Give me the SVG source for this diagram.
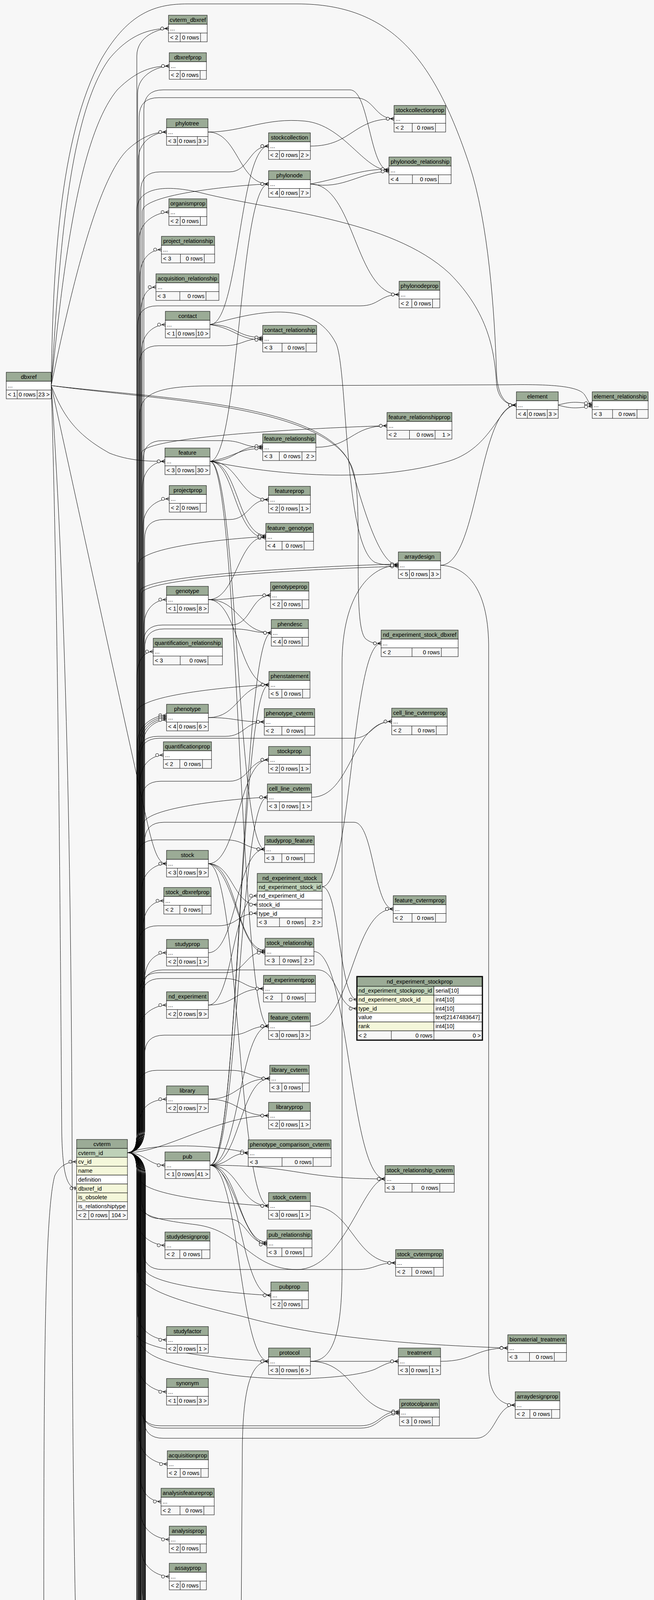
<svg xmlns="http://www.w3.org/2000/svg" width="1673" height="6361" viewBox="0 0 1673 6361">
<style>
text{font-family:"Liberation Sans",Arial,Helvetica,sans-serif;font-size:14.67px;fill:#000}
.c{text-anchor:middle}.e{text-anchor:end}
.h{fill:#9bab96;stroke:#000}.w{fill:#fff;stroke:#000}.f{fill:#f7f7f7;stroke:#000}.p{fill:#bed1b8;stroke:#000}.i{fill:#f4f7da;stroke:#000}
.k{stroke:#000;fill:none}
#edges path{fill:none;stroke:#000;stroke-width:1;marker-end:url(#cf)}
#edges path.o{marker-end:url(#t1)}
</style>
<defs>
<marker id="cf" viewBox="0 0 26 12" refX="25" refY="6" markerWidth="26" markerHeight="12" markerUnits="userSpaceOnUse" orient="auto">
<path d="M16 6H25M16 6L25 1.5M16 6L25 10.5" fill="none" stroke="#000"/>
<circle cx="9" cy="6" r="4" fill="#fff" stroke="#000"/>
</marker>
<marker id="t1" viewBox="0 0 26 12" refX="25" refY="6" markerWidth="26" markerHeight="12" markerUnits="userSpaceOnUse" orient="auto">
<path d="M21 1.5V10.5" fill="none" stroke="#000" stroke-width="2"/>
<circle cx="12" cy="6" r="4" fill="#fff" stroke="#000"/>
</marker>
</defs>
<rect width="1673" height="6361" fill="#f7f7f7"/>
<g id="edges">
<path d="M131 987C150 700 170 300 280 150C330 90 380 73 431 73"/>
<path d="M131 987C160 700 200 350 300 230C350 180 390 169 433 169"/>
<path d="M131 987C180 750 250 450 330 380C370 345 400 338 426 338"/>
<path d="M131 987C160 1060 190 1110 280 1160C330 1180 380 1181 422 1181"/>
<path d="M131 987C400 1020 850 1030 900 1200C930 1300 970 1447 1019 1447"/>
<path d="M131 987C135 700 150 350 260 150C330 30 400 10 480 10L760 10C1000 10 1110 150 1200 420C1250 570 1265 800 1270 950C1272 1010 1290 1037 1321 1037"/>
<path d="M131 987C400 1025 860 1035 905 1210C930 1300 900 1600 935 1635C950 1647 960 1647 975 1647"/>
<path d="M131 987C200 1300 330 1900 380 2120C395 2180 405 2211 426 2211"/>
<path class="o" d="M131 987C150 1600 155 2500 158 2900C160 3000 170 3042 196 3042"/>
<path d="M131 987C180 1700 185 2600 185 3300C185 4300 220 5400 300 5680C350 5790 440 5800 500 5800C570 5800 605 5750 607 5600L620 3700C622 3560 640 3485 687 3485"/>
<path d="M121 6178C200 6170 235 5900 235 5600C235 5100 112 4600 112 4100C112 3500 115 3100 140 3010C152 2985 172 2974 196 2974"/>
<path d="M121 6178L433 6178"/>
<path d="M121 6178C220 6178 300 6277 433 6277"/>
<path d="M326 2951C345 2951 350 2935 350 2890L350 143C350 93 406 73 431 73"/>
<path d="M326 2951C345 2951 352 2935 352 2890L352 239C352 189 408 169 433 169"/>
<path d="M326 2951C345 2951 354 2935 354 2890L354 408C354 358 401 338 426 338"/>
<path d="M326 2951C345 2951 356 2935 356 2890L356 613C356 563 407 543 432 543"/>
<path d="M326 2951C345 2951 358 2935 358 2890L358 709C358 659 388 639 413 639"/>
<path d="M326 2951C345 2951 360 2935 360 2890L360 805C360 755 380 735 399 735"/>
<path d="M326 2951C345 2951 362 2935 362 2890L362 901C362 851 398 831 423 831"/>
<path d="M326 2951C345 2951 364 2935 364 2890L364 1251C364 1201 397 1181 422 1181"/>
<path d="M326 2951C345 2951 366 2935 366 2890L366 1347C366 1297 408 1277 433 1277"/>
<path d="M326 2951C345 2951 368 2935 368 2890L368 1605C368 1555 401 1535 426 1535"/>
<path d="M326 2951C345 2951 350 2935 350 2890L350 1738C350 1688 370 1668 392 1668"/>
<path d="M326 2951C345 2951 352 2935 352 2890L352 1901C352 1851 401 1831 426 1831"/>
<path d="M326 2951C345 2951 356 2935 356 2890L356 1905C356 1855 401 1835 426 1835"/>
<path d="M326 2951C345 2951 360 2935 360 2890L360 1909C360 1859 401 1839 426 1839"/>
<path d="M326 2951C345 2951 364 2935 364 2890L364 1913C364 1863 401 1843 426 1843"/>
<path d="M326 2951C345 2951 358 2935 358 2890L358 2003C358 1953 393 1933 418 1933"/>
<path d="M326 2951C345 2951 362 2935 362 2890L362 2281C362 2231 401 2211 426 2211"/>
<path d="M326 2951C345 2951 366 2935 366 2890L366 2376C366 2326 394 2306 419 2306"/>
<path d="M326 2951C345 2951 370 2935 370 2890L370 2509C370 2459 401 2439 426 2439"/>
<path d="M326 2951C345 2951 354 2935 354 2890L354 2643C354 2593 401 2573 426 2573"/>
<path d="M326 2951C350 2951 358 2900 358 2870C358 2830 395 2814 426 2814"/>
<path d="M326 2951C370 2951 380 2983 422 2983"/>
<path d="M326 2951C345 2951 350 2967 350 3010L350 3118C350 3168 397 3188 422 3188"/>
<path d="M326 2951C345 2951 352 2967 352 3010L352 3360C352 3410 401 3430 426 3430"/>
<path d="M326 2951C345 2951 354 2967 354 3010L354 3493C354 3543 401 3563 426 3563"/>
<path d="M326 2951C345 2951 356 2967 356 3010L356 3678C356 3728 403 3748 428 3748"/>
<path d="M326 2951C345 2951 358 2967 358 3010L358 3774C358 3824 387 3844 412 3844"/>
<path d="M326 2951C345 2951 360 2967 360 3010L360 3871C360 3921 408 3941 433 3941"/>
<path d="M326 2951C345 2951 362 2967 362 3010L362 3966C362 4016 408 4036 433 4036"/>
<path d="M326 2951C345 2951 364 2967 364 3010L364 4063C364 4113 380 4133 398 4133"/>
<path d="M326 2951C345 2951 366 2967 366 3010L366 4159C366 4209 401 4229 426 4229"/>
<path d="M326 2951C345 2951 368 2967 368 3010L368 4255C368 4305 385 4325 408 4325"/>
<path d="M326 2951C345 2951 370 2967 370 3010L370 4351C370 4401 401 4421 426 4421"/>
<path d="M326 2951C345 2951 372 2967 372 3010L372 4447C372 4497 408 4517 433 4517"/>
<path d="M326 2951C345 2951 350 2967 350 3010L350 4543C350 4593 408 4613 433 4613"/>
<path d="M326 2951C345 2951 352 2967 352 3010L352 4634C352 4684 390 4704 413 4704"/>
<path d="M326 2951C345 2951 356 2967 356 3010L356 4638C356 4688 390 4708 413 4708"/>
<path d="M326 2951C345 2951 360 2967 360 3010L360 4642C360 4692 390 4712 413 4712"/>
<path d="M326 2951C345 2951 354 2967 354 3010L354 4731C354 4781 408 4801 433 4801"/>
<path d="M326 2951C345 2951 358 2967 358 3010L358 4737C358 4787 408 4807 433 4807"/>
<path d="M326 2951C345 2951 362 2967 362 3010L362 4827C362 4877 399 4897 424 4897"/>
<path d="M326 2951C345 2951 366 2967 366 3010L366 4833C366 4883 399 4903 424 4903"/>
<path d="M326 2951C345 2951 370 2967 370 3010L370 4926C370 4976 380 4996 390 4996"/>
<path d="M326 2951C345 2951 372 2967 372 3010L372 5022C372 5072 392 5092 410 5092"/>
<path d="M326 2951C345 2951 350 2967 350 3010L350 5153C350 5203 389 5223 414 5223"/>
<path d="M326 2951C345 2951 354 2967 354 3010L354 5159C354 5209 389 5229 414 5229"/>
<path d="M326 2951C345 2951 356 2967 356 3010L356 5252C356 5302 401 5322 426 5322"/>
<path d="M326 2951C345 2951 358 2967 358 3010L358 5348C358 5398 378 5418 399 5418"/>
<path d="M326 2951C345 2951 360 2967 360 3010L360 5444C360 5494 397 5514 422 5514"/>
<path d="M326 2951C345 2951 362 2967 362 3010L362 5540C362 5590 401 5610 426 5610"/>
<path d="M326 2951C345 2951 364 2967 364 3010L364 5636C364 5686 387 5706 412 5706"/>
<path d="M326 2951C345 2951 366 2967 366 3010L366 5806C366 5856 402 5876 427 5876"/>
<path d="M326 2951C345 2951 368 2967 368 3010L368 5975C368 6025 402 6045 427 6045"/>
<path d="M326 2951C345 2951 350 2967 350 3010L350 6102C350 6152 408 6172 433 6172"/>
<path d="M326 2951C345 2951 354 2967 354 3010L354 6106C354 6156 408 6175 433 6175"/>
<path d="M326 2951C345 2951 358 2967 358 3010L358 6112C358 6162 408 6182 433 6182"/>
<path d="M326 2951C345 2951 360 2967 360 3010L360 6201C360 6251 408 6271 433 6271"/>
<path d="M326 2951C345 2951 356 2935 356 2890L356 300Q356 250 406 250L908 250C958 250 958 304 1008 304"/>
<path d="M326 2951C345 2951 360 2935 360 2890L360 490Q360 440 410 440L587 440C637 440 637 374 687 374"/>
<path d="M326 2951C345 2951 364 2935 364 2890L364 541C364 491 662 471 687 471"/>
<path d="M326 2951C345 2951 368 2935 368 2890L368 280Q368 230 418 230L895 230C945 230 945 436 995 436"/>
<path d="M326 2951C345 2951 352 2935 352 2890L352 833Q352 783 402 783L921 783C971 783 971 754 1021 754"/>
<path d="M326 2951C345 2951 356 2935 356 2890L356 935Q356 885 406 885L572 885C622 885 622 867 672 867"/>
<path d="M326 2951C345 2951 350 2935 350 2890L350 540C350 480 420 470 520 495C700 540 1000 560 1150 700C1250 800 1265 900 1270 980C1273 1020 1295 1037 1321 1037"/>
<path d="M326 2951C345 2951 358 2935 358 2890L358 1060C358 1010 400 990 520 988L1300 985C1420 983 1480 990 1495 1010C1505 1025 1508 1037 1515 1037"/>
<path d="M326 2951C345 2951 362 2935 362 2890L362 1160C362 1110 965 1090 990 1090"/>
<path d="M326 2951C345 2951 366 2935 366 2890L366 1178Q366 1128 416 1128L572 1128C622 1128 622 1145 672 1145"/>
<path d="M326 2951C345 2951 370 2935 370 2890L370 1380Q370 1330 420 1330L587 1330C637 1330 637 1279 687 1279"/>
<path d="M326 2951C345 2951 354 2935 354 2890L354 1444C354 1394 655 1374 680 1374"/>
<path d="M326 2951C345 2951 358 2935 358 2890L358 1514C358 1464 994 1444 1019 1444"/>
<path d="M326 2951C345 2951 362 2935 362 2890L362 1520C362 1470 994 1450 1019 1450"/>
<path d="M326 2951C345 2951 366 2935 366 2890L366 1650Q366 1600 416 1600L592 1600C642 1600 642 1524 692 1524"/>
<path d="M326 2951C345 2951 370 2935 370 2890L370 1660Q370 1610 420 1610L594 1610C644 1610 644 1620 694 1620"/>
<path d="M326 2951C345 2951 350 2935 350 2890L350 1823C350 1773 663 1753 688 1753"/>
<path d="M326 2951C345 2951 354 2935 354 2890L354 1935Q354 1885 404 1885L576 1885C626 1885 626 1848 676 1848"/>
<path d="M326 2951C345 2951 358 2935 358 2890L358 1940Q358 1890 408 1890L902 1890C952 1890 952 1847 1002 1847"/>
<path d="M326 2951C345 2951 362 2935 362 2890L362 2050Q362 2000 412 2000L587 2000C637 2000 637 1945 687 1945"/>
<path d="M326 2951C345 2951 366 2935 366 2890L366 2111C366 2061 659 2041 684 2041"/>
<path d="M326 2951C345 2951 370 2935 370 2890L370 2155Q370 2105 420 2105L906 2105C956 2105 956 2327 1006 2327"/>
<path d="M326 2951C345 2951 350 2935 350 2890L350 2200Q350 2150 400 2150L577 2150C627 2150 627 2174 677 2174"/>
<path d="M326 2951C345 2951 354 2935 354 2890L354 2420Q354 2370 404 2370L558 2370C608 2370 608 2338 658 2338"/>
<path d="M326 2951C345 2951 358 2935 358 2890L358 2540Q358 2490 408 2490L578 2490C628 2490 628 2436 678 2436"/>
<path d="M326 2951C345 2951 362 2935 362 2890L362 2555Q362 2505 412 2505L574 2505C624 2505 624 2531 674 2531"/>
<path d="M326 2951C345 2951 366 2935 366 2890L366 2533Q366 2483 416 2483L813 2483C863 2483 863 2582 913 2582"/>
<path d="M326 2951C345 2951 370 2935 370 2890L370 2700Q370 2650 420 2650L587 2650C637 2650 637 2627 687 2627"/>
<path d="M326 2951C345 2951 352 2935 352 2890L352 2790Q352 2740 402 2740L590 2740C640 2740 640 2761 690 2761"/>
<path d="M326 2951C420 2951 560 2856 687 2856"/>
<path d="M326 2951C400 2925 550 2930 635 2952"/>
<path d="M326 2951C345 2951 354 2967 354 3010L354 3080C354 3115 420 3125 500 3135C620 3150 640 3250 760 3250C880 3250 930 3018 985 3018"/>
<path d="M326 2951C345 2951 358 2967 358 3010L358 3017C358 3067 662 3087 687 3087"/>
<path d="M326 2951C345 2951 362 2967 362 3010L362 3070Q362 3120 412 3120L583 3120C633 3120 633 3183 683 3183"/>
<path d="M326 2951C345 2951 366 2967 366 3010L366 3200Q366 3250 416 3250L912 3250C962 3250 962 3233 1012 3233"/>
<path d="M326 2951C345 2951 370 2967 370 3010L370 3246C370 3296 668 3316 693 3316"/>
<path d="M326 2951C345 2951 350 2967 350 3010L350 3415C350 3465 662 3485 687 3485"/>
<path d="M326 2951C345 2951 352 2967 352 3010L352 3250C352 3300 450 3330 620 3370C800 3420 1000 3440 1299 3451"/>
<path d="M326 2951C345 2951 356 2967 356 3010L356 3420C356 3470 420 3490 560 3515C700 3540 900 3530 960 3505C985 3492 1000 3485 1019 3485"/>
<path d="M326 2951C345 2951 360 2967 360 3010L360 3600Q360 3650 410 3650L922 3650C972 3650 972 3613 1022 3613"/>
<path d="M326 2951C345 2951 364 2967 364 3010L364 3606Q364 3656 414 3656L922 3656C972 3656 972 3619 1022 3619"/>
<path d="M326 2951C345 2951 368 2967 368 3010L368 3632Q368 3682 418 3682L1218 3682C1268 3682 1268 3597 1318 3597"/>
<path d="M326 2951C345 2951 370 2967 370 3010L370 5110Q370 5160 420 5160L560 5160C610 5160 610 5192 660 5192"/>
<path d="M326 2951C345 2951 372 2967 372 3010L372 5741C372 5791 633 5811 658 5811"/>
<path d="M326 2951C345 2951 350 2967 350 3010L350 5890C350 5950 420 5962 470 5962C560 5962 620 5908 686 5908"/>
<path d="M326 2951C345 2951 354 2967 354 3010L354 5933C354 5983 645 6003 670 6003"/>
<path d="M326 2951C345 2951 358 2967 358 3010L358 6036C358 6086 660 6106 685 6106"/>
<path d="M532 338C609 338 610 471 687 471"/>
<path d="M532 338C620 338 680 300 780 310C880 320 930 436 995 436"/>
<path d="M794 471C880 455 920 433 995 433"/>
<path d="M794 471C880 487 920 439 995 439"/>
<path d="M794 471C907 471 908 754 1021 754"/>
<path d="M537 1181C612 1181 612 471 687 471"/>
<path d="M537 1181C605 1181 604 1142 672 1142"/>
<path d="M537 1181C600 1170 610 1148 672 1148"/>
<path d="M537 1181C612 1181 612 1279 687 1279"/>
<path d="M537 1181C609 1181 608 1371 680 1371"/>
<path d="M537 1181C600 1181 600 1377 680 1377"/>
<path d="M537 1181C700 1215 950 1240 1150 1180C1260 1145 1275 1037 1321 1037"/>
<path d="M537 1181C607 1181 607 2174 677 2174"/>
<path d="M537 1181C612 1181 612 2627 687 2627"/>
<path d="M537 831C605 831 604 864 672 864"/>
<path d="M537 831C600 840 610 870 672 870"/>
<path d="M537 831C612 831 612 374 687 374"/>
<path d="M537 831C650 800 800 760 860 880C890 950 880 1400 960 1440C980 1447 1000 1447 1019 1447"/>
<path d="M794 374C901 374 901 304 1008 304"/>
<path d="M808 1145C899 1145 899 1090 990 1090"/>
<path d="M533 1535C606 1535 607 1374 680 1374"/>
<path d="M533 1535C612 1535 612 1524 692 1524"/>
<path d="M533 1535C613 1535 614 1620 694 1620"/>
<path d="M533 1535C610 1535 611 1753 688 1753"/>
<path d="M533 1837C610 1837 611 1753 688 1753"/>
<path d="M533 1837C604 1837 605 1848 676 1848"/>
<path d="M537 2983C615 2983 616 1620 694 1620"/>
<path d="M537 2983C612 2983 613 1753 688 1753"/>
<path d="M537 2983C610 2983 611 2041 684 2041"/>
<path d="M537 2983C612 2983 612 2627 687 2627"/>
<path d="M537 2983C613 2983 614 2761 690 2761"/>
<path d="M537 2983C586 2983 586 2952 635 2952"/>
<path d="M537 2983C612 2983 612 3087 687 3087"/>
<path d="M537 2983C610 2983 610 3180 683 3180"/>
<path d="M537 2983C600 2990 620 3186 683 3186"/>
<path d="M537 2983C615 2983 615 3316 693 3316"/>
<path d="M537 2983C612 2983 612 3485 687 3485"/>
<path d="M537 2983C761 2983 761 3018 985 3018"/>
<path d="M533 2211C610 2211 610 1945 687 1945"/>
<path d="M533 2211C595 2211 596 2316 658 2316"/>
<path d="M533 2211C605 2211 606 2433 678 2433"/>
<path d="M533 2211C598 2220 612 2439 678 2439"/>
<path d="M533 2211C610 2211 610 3087 687 3087"/>
<path d="M533 2439C605 2439 605 2174 677 2174"/>
<path d="M533 2573C595 2573 596 2293 658 2293"/>
<path d="M533 2573C603 2573 604 2531 674 2531"/>
<path d="M533 2814C611 2814 612 2761 690 2761"/>
<path d="M533 2814C610 2814 610 2856 687 2856"/>
<path d="M797 2041C899 2041 900 1847 1002 1847"/>
<path d="M824 2270C899 2270 900 1647 975 1647"/>
<path d="M824 2270C869 2270 868 2559 913 2559"/>
<path d="M803 2436C894 2436 894 3018 985 3018"/>
<path d="M794 2627C900 2627 900 2327 1006 2327"/>
<path d="M794 3087C903 3087 903 3233 1012 3233"/>
<path d="M794 3485L1019 3485"/>
<path d="M794 3485C908 3485 908 3616 1022 3616"/>
<path d="M794 3485C850 3485 875 3420 875 3250L875 1700C875 1520 950 1447 1019 1447"/>
<path d="M1127 3485C1213 3485 1213 3451 1299 3451"/>
<path d="M1127 1447C1224 1447 1224 1037 1321 1037"/>
<path d="M1127 1447C1190 1450 1248 1500 1250 1650L1250 3500C1250 3570 1280 3597 1318 3597"/>
<path d="M1428 1037C1465 1026 1480 1030 1515 1034"/>
<path d="M1428 1037C1465 1048 1480 1044 1515 1040"/>
<path d="M545 5226C602 5226 603 5192 660 5192"/>
<path d="M534 5876C596 5876 596 5808 658 5808"/>
<path d="M534 5876C590 5870 600 5814 658 5814"/>
<path d="M534 5876C610 5876 610 5908 686 5908"/>
<path d="M534 5876C602 5876 602 6000 670 6000"/>
<path d="M534 6045C602 6045 602 6006 670 6006"/>
<path d="M534 6045C610 6045 610 6106 685 6106"/>
</g>
<g id="tbl-cvterm_dbxref" transform="translate(431 39)"><rect class="h" width="99" height="23"/><rect class="w" y="23" width="99" height="22.5"/><rect class="f" y="45.5" width="99" height="22.5"/><path class="k" d="M30 45.5V68M82 45.5V68"/><text class="c" x="49.5" y="16.5">cvterm_dbxref</text><text x="4" y="39">...</text><text x="4" y="61.5">&lt; 2</text><text class="e" x="78" y="61.5">0 rows</text></g>
<g id="tbl-dbxrefprop" transform="translate(433 135)"><rect class="h" width="95" height="23"/><rect class="w" y="23" width="95" height="22.5"/><rect class="f" y="45.5" width="95" height="22.5"/><path class="k" d="M28 45.5V68M79 45.5V68"/><text class="c" x="47.5" y="16.5">dbxrefprop</text><text x="4" y="39">...</text><text x="4" y="61.5">&lt; 2</text><text class="e" x="75" y="61.5">0 rows</text></g>
<g id="tbl-phylotree" transform="translate(426 304)"><rect class="h" width="106" height="23"/><rect class="w" y="23" width="106" height="22.5"/><rect class="f" y="45.5" width="106" height="22.5"/><path class="k" d="M28 45.5V68M79 45.5V68"/><text class="c" x="53" y="16.5">phylotree</text><text x="4" y="39">...</text><text x="4" y="61.5">&lt; 3</text><text class="e" x="75" y="61.5">0 rows</text><text class="e" x="102" y="61.5">3 &gt;</text></g>
<g id="tbl-organismprop" transform="translate(432 509)"><rect class="h" width="97" height="23"/><rect class="w" y="23" width="97" height="22.5"/><rect class="f" y="45.5" width="97" height="22.5"/><path class="k" d="M29 45.5V68M80.5 45.5V68"/><text class="c" x="48.5" y="16.5">organismprop</text><text x="4" y="39">...</text><text x="4" y="61.5">&lt; 2</text><text class="e" x="76.5" y="61.5">0 rows</text></g>
<g id="tbl-project_relationship" transform="translate(413 605)"><rect class="h" width="136" height="23"/><rect class="w" y="23" width="136" height="22.5"/><rect class="f" y="45.5" width="136" height="22.5"/><path class="k" d="M48.5 45.5V68M109.5 45.5V68"/><text class="c" x="68" y="16.5">project_relationship</text><text x="4" y="39">...</text><text x="4" y="61.5">&lt; 3</text><text class="e" x="105.5" y="61.5">0 rows</text></g>
<g id="tbl-acquisition_relationship" transform="translate(399 701)"><rect class="h" width="161" height="23"/><rect class="w" y="23" width="161" height="22.5"/><rect class="f" y="45.5" width="161" height="22.5"/><path class="k" d="M61 45.5V68M128 45.5V68"/><text class="c" x="80.5" y="16.5">acquisition_relationship</text><text x="4" y="39">...</text><text x="4" y="61.5">&lt; 3</text><text class="e" x="124" y="61.5">0 rows</text></g>
<g id="tbl-contact" transform="translate(423 797)"><rect class="h" width="114" height="23"/><rect class="w" y="23" width="114" height="22.5"/><rect class="f" y="45.5" width="114" height="22.5"/><path class="k" d="M28 45.5V68M79 45.5V68"/><text class="c" x="57" y="16.5">contact</text><text x="4" y="39">...</text><text x="4" y="61.5">&lt; 1</text><text class="e" x="75" y="61.5">0 rows</text><text class="e" x="110" y="61.5">10 &gt;</text></g>
<g id="tbl-feature" transform="translate(422 1147)"><rect class="h" width="115" height="23"/><rect class="w" y="23" width="115" height="22.5"/><rect class="f" y="45.5" width="115" height="22.5"/><path class="k" d="M28 45.5V68M79 45.5V68"/><text class="c" x="57.5" y="16.5">feature</text><text x="4" y="39">...</text><text x="4" y="61.5">&lt; 3</text><text class="e" x="75" y="61.5">0 rows</text><text class="e" x="111" y="61.5">30 &gt;</text></g>
<g id="tbl-projectprop" transform="translate(433 1243)"><rect class="h" width="95" height="23"/><rect class="w" y="23" width="95" height="22.5"/><rect class="f" y="45.5" width="95" height="22.5"/><path class="k" d="M28 45.5V68M79 45.5V68"/><text class="c" x="47.5" y="16.5">projectprop</text><text x="4" y="39">...</text><text x="4" y="61.5">&lt; 2</text><text class="e" x="75" y="61.5">0 rows</text></g>
<g id="tbl-genotype" transform="translate(426 1501)"><rect class="h" width="107" height="23"/><rect class="w" y="23" width="107" height="22.5"/><rect class="f" y="45.5" width="107" height="22.5"/><path class="k" d="M28 45.5V68M79 45.5V68"/><text class="c" x="53.5" y="16.5">genotype</text><text x="4" y="39">...</text><text x="4" y="61.5">&lt; 1</text><text class="e" x="75" y="61.5">0 rows</text><text class="e" x="103" y="61.5">8 &gt;</text></g>
<g id="tbl-quantification_relationship" transform="translate(392 1634)"><rect class="h" width="177" height="23"/><rect class="w" y="23" width="177" height="22.5"/><rect class="f" y="45.5" width="177" height="22.5"/><path class="k" d="M69 45.5V68M140 45.5V68"/><text class="c" x="88.5" y="16.5">quantification_relationship</text><text x="4" y="39">...</text><text x="4" y="61.5">&lt; 3</text><text class="e" x="136" y="61.5">0 rows</text></g>
<g id="tbl-phenotype" transform="translate(426 1803)"><rect class="h" width="107" height="23"/><rect class="w" y="23" width="107" height="22.5"/><rect class="f" y="45.5" width="107" height="22.5"/><path class="k" d="M28 45.5V68M79 45.5V68"/><text class="c" x="53.5" y="16.5">phenotype</text><text x="4" y="39">...</text><text x="4" y="61.5">&lt; 4</text><text class="e" x="75" y="61.5">0 rows</text><text class="e" x="103" y="61.5">6 &gt;</text></g>
<g id="tbl-quantificationprop" transform="translate(418 1899)"><rect class="h" width="123" height="23"/><rect class="w" y="23" width="123" height="22.5"/><rect class="f" y="45.5" width="123" height="22.5"/><path class="k" d="M42 45.5V68M100 45.5V68"/><text class="c" x="61.5" y="16.5">quantificationprop</text><text x="4" y="39">...</text><text x="4" y="61.5">&lt; 2</text><text class="e" x="96" y="61.5">0 rows</text></g>
<g id="tbl-stock" transform="translate(426 2177)"><rect class="h" width="107" height="23"/><rect class="w" y="23" width="107" height="22.5"/><rect class="f" y="45.5" width="107" height="22.5"/><path class="k" d="M28 45.5V68M79 45.5V68"/><text class="c" x="53.5" y="16.5">stock</text><text x="4" y="39">...</text><text x="4" y="61.5">&lt; 3</text><text class="e" x="75" y="61.5">0 rows</text><text class="e" x="103" y="61.5">9 &gt;</text></g>
<g id="tbl-stock_dbxrefprop" transform="translate(419 2272)"><rect class="h" width="121" height="23"/><rect class="w" y="23" width="121" height="22.5"/><rect class="f" y="45.5" width="121" height="22.5"/><path class="k" d="M41 45.5V68M98 45.5V68"/><text class="c" x="60.5" y="16.5">stock_dbxrefprop</text><text x="4" y="39">...</text><text x="4" y="61.5">&lt; 2</text><text class="e" x="94" y="61.5">0 rows</text></g>
<g id="tbl-studyprop" transform="translate(426 2405)"><rect class="h" width="107" height="23"/><rect class="w" y="23" width="107" height="22.5"/><rect class="f" y="45.5" width="107" height="22.5"/><path class="k" d="M28 45.5V68M79 45.5V68"/><text class="c" x="53.5" y="16.5">studyprop</text><text x="4" y="39">...</text><text x="4" y="61.5">&lt; 2</text><text class="e" x="75" y="61.5">0 rows</text><text class="e" x="103" y="61.5">1 &gt;</text></g>
<g id="tbl-nd_experiment" transform="translate(426 2539)"><rect class="h" width="107" height="23"/><rect class="w" y="23" width="107" height="22.5"/><rect class="f" y="45.5" width="107" height="22.5"/><path class="k" d="M28 45.5V68M79 45.5V68"/><text class="c" x="53.5" y="16.5">nd_experiment</text><text x="4" y="39">...</text><text x="4" y="61.5">&lt; 2</text><text class="e" x="75" y="61.5">0 rows</text><text class="e" x="103" y="61.5">9 &gt;</text></g>
<g id="tbl-library" transform="translate(426 2780)"><rect class="h" width="107" height="23"/><rect class="w" y="23" width="107" height="22.5"/><rect class="f" y="45.5" width="107" height="22.5"/><path class="k" d="M28 45.5V68M79 45.5V68"/><text class="c" x="53.5" y="16.5">library</text><text x="4" y="39">...</text><text x="4" y="61.5">&lt; 2</text><text class="e" x="75" y="61.5">0 rows</text><text class="e" x="103" y="61.5">7 &gt;</text></g>
<g id="tbl-pub" transform="translate(422 2949)"><rect class="h" width="115" height="23"/><rect class="w" y="23" width="115" height="22.5"/><rect class="f" y="45.5" width="115" height="22.5"/><path class="k" d="M28 45.5V68M79 45.5V68"/><text class="c" x="57.5" y="16.5">pub</text><text x="4" y="39">...</text><text x="4" y="61.5">&lt; 1</text><text class="e" x="75" y="61.5">0 rows</text><text class="e" x="111" y="61.5">41 &gt;</text></g>
<g id="tbl-studydesignprop" transform="translate(422 3154)"><rect class="h" width="115" height="23"/><rect class="w" y="23" width="115" height="22.5"/><rect class="f" y="45.5" width="115" height="22.5"/><path class="k" d="M38 45.5V68M94 45.5V68"/><text class="c" x="57.5" y="16.5">studydesignprop</text><text x="4" y="39">...</text><text x="4" y="61.5">&lt; 2</text><text class="e" x="90" y="61.5">0 rows</text></g>
<g id="tbl-studyfactor" transform="translate(426 3396)"><rect class="h" width="107" height="23"/><rect class="w" y="23" width="107" height="22.5"/><rect class="f" y="45.5" width="107" height="22.5"/><path class="k" d="M28 45.5V68M79 45.5V68"/><text class="c" x="53.5" y="16.5">studyfactor</text><text x="4" y="39">...</text><text x="4" y="61.5">&lt; 2</text><text class="e" x="75" y="61.5">0 rows</text><text class="e" x="103" y="61.5">1 &gt;</text></g>
<g id="tbl-synonym" transform="translate(426 3529)"><rect class="h" width="107" height="23"/><rect class="w" y="23" width="107" height="22.5"/><rect class="f" y="45.5" width="107" height="22.5"/><path class="k" d="M28 45.5V68M79 45.5V68"/><text class="c" x="53.5" y="16.5">synonym</text><text x="4" y="39">...</text><text x="4" y="61.5">&lt; 1</text><text class="e" x="75" y="61.5">0 rows</text><text class="e" x="103" y="61.5">3 &gt;</text></g>
<g id="tbl-acquisitionprop" transform="translate(428 3714)"><rect class="h" width="105" height="23"/><rect class="w" y="23" width="105" height="22.5"/><rect class="f" y="45.5" width="105" height="22.5"/><path class="k" d="M33 45.5V68M86 45.5V68"/><text class="c" x="52.5" y="16.5">acquisitionprop</text><text x="4" y="39">...</text><text x="4" y="61.5">&lt; 2</text><text class="e" x="82" y="61.5">0 rows</text></g>
<g id="tbl-analysisfeatureprop" transform="translate(412 3810)"><rect class="h" width="136" height="23"/><rect class="w" y="23" width="136" height="22.5"/><rect class="f" y="45.5" width="136" height="22.5"/><path class="k" d="M48.5 45.5V68M109.5 45.5V68"/><text class="c" x="68" y="16.5">analysisfeatureprop</text><text x="4" y="39">...</text><text x="4" y="61.5">&lt; 2</text><text class="e" x="105.5" y="61.5">0 rows</text></g>
<g id="tbl-analysisprop" transform="translate(433 3907)"><rect class="h" width="95" height="23"/><rect class="w" y="23" width="95" height="22.5"/><rect class="f" y="45.5" width="95" height="22.5"/><path class="k" d="M28 45.5V68M79 45.5V68"/><text class="c" x="47.5" y="16.5">analysisprop</text><text x="4" y="39">...</text><text x="4" y="61.5">&lt; 2</text><text class="e" x="75" y="61.5">0 rows</text></g>
<g id="tbl-assayprop" transform="translate(433 4002)"><rect class="h" width="95" height="23"/><rect class="w" y="23" width="95" height="22.5"/><rect class="f" y="45.5" width="95" height="22.5"/><path class="k" d="M28 45.5V68M79 45.5V68"/><text class="c" x="47.5" y="16.5">assayprop</text><text x="4" y="39">...</text><text x="4" y="61.5">&lt; 2</text><text class="e" x="75" y="61.5">0 rows</text></g>
<g id="tbl-biomaterial_relationship" transform="translate(398 4099)"><rect class="h" width="163" height="23"/><rect class="w" y="23" width="163" height="22.5"/><rect class="f" y="45.5" width="163" height="22.5"/><path class="k" d="M62 45.5V68M129.5 45.5V68"/><text class="c" x="81.5" y="16.5">biomaterial_relationship</text><text x="4" y="39">...</text><text x="4" y="61.5">&lt; 3</text><text class="e" x="125.5" y="61.5">0 rows</text></g>
<g id="tbl-biomaterialprop" transform="translate(426 4195)"><rect class="h" width="108" height="23"/><rect class="w" y="23" width="108" height="22.5"/><rect class="f" y="45.5" width="108" height="22.5"/><path class="k" d="M34.5 45.5V68M88 45.5V68"/><text class="c" x="54" y="16.5">biomaterialprop</text><text x="4" y="39">...</text><text x="4" y="61.5">&lt; 2</text><text class="e" x="84" y="61.5">0 rows</text></g>
<g id="tbl-cell_line_relationship" transform="translate(408 4291)"><rect class="h" width="144" height="23"/><rect class="w" y="23" width="144" height="22.5"/><rect class="f" y="45.5" width="144" height="22.5"/><path class="k" d="M52.5 45.5V68M116 45.5V68"/><text class="c" x="72" y="16.5">cell_line_relationship</text><text x="4" y="39">...</text><text x="4" y="61.5">&lt; 3</text><text class="e" x="112" y="61.5">0 rows</text></g>
<g id="tbl-cell_lineprop" transform="translate(426 4387)"><rect class="h" width="107" height="23"/><rect class="w" y="23" width="107" height="22.5"/><rect class="f" y="45.5" width="107" height="22.5"/><path class="k" d="M28 45.5V68M79 45.5V68"/><text class="c" x="53.5" y="16.5">cell_lineprop</text><text x="4" y="39">...</text><text x="4" y="61.5">&lt; 2</text><text class="e" x="75" y="61.5">0 rows</text><text class="e" x="103" y="61.5">1 &gt;</text></g>
<g id="tbl-chadoprop" transform="translate(433 4483)"><rect class="h" width="95" height="23"/><rect class="w" y="23" width="95" height="22.5"/><rect class="f" y="45.5" width="95" height="22.5"/><path class="k" d="M28 45.5V68M79 45.5V68"/><text class="c" x="47.5" y="16.5">chadoprop</text><text x="4" y="39">...</text><text x="4" y="61.5">&lt; 1</text><text class="e" x="75" y="61.5">0 rows</text></g>
<g id="tbl-control" transform="translate(433 4579)"><rect class="h" width="95" height="23"/><rect class="w" y="23" width="95" height="22.5"/><rect class="f" y="45.5" width="95" height="22.5"/><path class="k" d="M28 45.5V68M79 45.5V68"/><text class="c" x="47.5" y="16.5">control</text><text x="4" y="39">...</text><text x="4" y="61.5">&lt; 3</text><text class="e" x="75" y="61.5">0 rows</text></g>
<g id="tbl-cvterm_relationship" transform="translate(413 4674)"><rect class="h" width="135" height="23"/><rect class="w" y="23" width="135" height="22.5"/><rect class="f" y="45.5" width="135" height="22.5"/><path class="k" d="M48 45.5V68M108 45.5V68"/><text class="c" x="67.5" y="16.5">cvterm_relationship</text><text x="4" y="39">...</text><text x="4" y="61.5">&lt; 3</text><text class="e" x="104" y="61.5">0 rows</text></g>
<g id="tbl-cvtermprop" transform="translate(433 4770)"><rect class="h" width="95" height="23"/><rect class="w" y="23" width="95" height="22.5"/><rect class="f" y="45.5" width="95" height="22.5"/><path class="k" d="M28 45.5V68M79 45.5V68"/><text class="c" x="47.5" y="16.5">cvtermprop</text><text x="4" y="39">...</text><text x="4" y="61.5">&lt; 2</text><text class="e" x="75" y="61.5">0 rows</text></g>
<g id="tbl-cvtermsynonym" transform="translate(424 4866)"><rect class="h" width="112" height="23"/><rect class="w" y="23" width="112" height="22.5"/><rect class="f" y="45.5" width="112" height="22.5"/><path class="k" d="M36.5 45.5V68M91.5 45.5V68"/><text class="c" x="56" y="16.5">cvtermsynonym</text><text x="4" y="39">...</text><text x="4" y="61.5">&lt; 2</text><text class="e" x="87.5" y="61.5">0 rows</text></g>
<g id="tbl-elementresult_relationship" transform="translate(390 4962)"><rect class="h" width="179" height="23"/><rect class="w" y="23" width="179" height="22.5"/><rect class="f" y="45.5" width="179" height="22.5"/><path class="k" d="M70 45.5V68M141.5 45.5V68"/><text class="c" x="89.5" y="16.5">elementresult_relationship</text><text x="4" y="39">...</text><text x="4" y="61.5">&lt; 3</text><text class="e" x="137.5" y="61.5">0 rows</text></g>
<g id="tbl-environment_cvterm" transform="translate(410 5058)"><rect class="h" width="141" height="23"/><rect class="w" y="23" width="141" height="22.5"/><rect class="f" y="45.5" width="141" height="22.5"/><path class="k" d="M51 45.5V68M113 45.5V68"/><text class="c" x="70.5" y="16.5">environment_cvterm</text><text x="4" y="39">...</text><text x="4" y="61.5">&lt; 2</text><text class="e" x="109" y="61.5">0 rows</text></g>
<g id="tbl-expression_cvterm" transform="translate(414 5192)"><rect class="h" width="131" height="23"/><rect class="w" y="23" width="131" height="22.5"/><rect class="f" y="45.5" width="131" height="22.5"/><path class="k" d="M40 45.5V68M97 45.5V68"/><text class="c" x="65.5" y="16.5">expression_cvterm</text><text x="4" y="39">...</text><text x="4" y="61.5">&lt; 3</text><text class="e" x="93" y="61.5">0 rows</text><text class="e" x="127" y="61.5">1 &gt;</text></g>
<g id="tbl-expressionprop" transform="translate(426 5288)"><rect class="h" width="108" height="23"/><rect class="w" y="23" width="108" height="22.5"/><rect class="f" y="45.5" width="108" height="22.5"/><path class="k" d="M34.5 45.5V68M88 45.5V68"/><text class="c" x="54" y="16.5">expressionprop</text><text x="4" y="39">...</text><text x="4" y="61.5">&lt; 2</text><text class="e" x="84" y="61.5">0 rows</text></g>
<g id="tbl-feature_expressionprop" transform="translate(399 5384)"><rect class="h" width="162" height="23"/><rect class="w" y="23" width="162" height="22.5"/><rect class="f" y="45.5" width="162" height="22.5"/><path class="k" d="M61.5 45.5V68M129 45.5V68"/><text class="c" x="81" y="16.5">feature_expressionprop</text><text x="4" y="39">...</text><text x="4" y="61.5">&lt; 2</text><text class="e" x="125" y="61.5">0 rows</text></g>
<g id="tbl-feature_pubprop" transform="translate(422 5480)"><rect class="h" width="115" height="23"/><rect class="w" y="23" width="115" height="22.5"/><rect class="f" y="45.5" width="115" height="22.5"/><path class="k" d="M38 45.5V68M94 45.5V68"/><text class="c" x="57.5" y="16.5">feature_pubprop</text><text x="4" y="39">...</text><text x="4" y="61.5">&lt; 2</text><text class="e" x="90" y="61.5">0 rows</text></g>
<g id="tbl-featuremap" transform="translate(426 5576)"><rect class="h" width="107" height="23"/><rect class="w" y="23" width="107" height="22.5"/><rect class="f" y="45.5" width="107" height="22.5"/><path class="k" d="M28 45.5V68M79 45.5V68"/><text class="c" x="53.5" y="16.5">featuremap</text><text x="4" y="39">...</text><text x="4" y="61.5">&lt; 1</text><text class="e" x="75" y="61.5">0 rows</text><text class="e" x="103" y="61.5">3 &gt;</text></g>
<g id="tbl-nd_geolocationprop" transform="translate(412 5672)"><rect class="h" width="136" height="23"/><rect class="w" y="23" width="136" height="22.5"/><rect class="f" y="45.5" width="136" height="22.5"/><path class="k" d="M48.5 45.5V68M109.5 45.5V68"/><text class="c" x="68" y="16.5">nd_geolocationprop</text><text x="4" y="39">...</text><text x="4" y="61.5">&lt; 2</text><text class="e" x="105.5" y="61.5">0 rows</text></g>
<g id="tbl-nd_reagent" transform="translate(427 5842)"><rect class="h" width="107" height="23"/><rect class="w" y="23" width="107" height="22.5"/><rect class="f" y="45.5" width="107" height="22.5"/><path class="k" d="M28 45.5V68M79 45.5V68"/><text class="c" x="53.5" y="16.5">nd_reagent</text><text x="4" y="39">...</text><text x="4" y="61.5">&lt; 1</text><text class="e" x="75" y="61.5">0 rows</text><text class="e" x="103" y="61.5">4 &gt;</text></g>
<g id="tbl-nd_protocol" transform="translate(427 6011)"><rect class="h" width="107" height="23"/><rect class="w" y="23" width="107" height="22.5"/><rect class="f" y="45.5" width="107" height="22.5"/><path class="k" d="M28 45.5V68M79 45.5V68"/><text class="c" x="53.5" y="16.5">nd_protocol</text><text x="4" y="39">...</text><text x="4" y="61.5">&lt; 1</text><text class="e" x="75" y="61.5">0 rows</text><text class="e" x="103" y="61.5">3 &gt;</text></g>
<g id="tbl-cvtermpath" transform="translate(433 6144)"><rect class="h" width="95" height="23"/><rect class="w" y="23" width="95" height="22.5"/><rect class="f" y="45.5" width="95" height="22.5"/><path class="k" d="M28 45.5V68M79 45.5V68"/><text class="c" x="47.5" y="16.5">cvtermpath</text><text x="4" y="39">...</text><text x="4" y="61.5">&lt; 4</text><text class="e" x="75" y="61.5">0 rows</text></g>
<g id="tbl-cvprop" transform="translate(433 6240)"><rect class="h" width="95" height="23"/><rect class="w" y="23" width="95" height="22.5"/><rect class="f" y="45.5" width="95" height="22.5"/><path class="k" d="M28 45.5V68M79 45.5V68"/><text class="c" x="47.5" y="16.5">cvprop</text><text x="4" y="39">...</text><text x="4" y="61.5">&lt; 2</text><text class="e" x="75" y="61.5">0 rows</text></g>
<g id="tbl-stockcollection" transform="translate(687 340)"><rect class="h" width="107" height="23"/><rect class="w" y="23" width="107" height="22.5"/><rect class="f" y="45.5" width="107" height="22.5"/><path class="k" d="M28 45.5V68M79 45.5V68"/><text class="c" x="53.5" y="16.5">stockcollection</text><text x="4" y="39">...</text><text x="4" y="61.5">&lt; 2</text><text class="e" x="75" y="61.5">0 rows</text><text class="e" x="103" y="61.5">2 &gt;</text></g>
<g id="tbl-phylonode" transform="translate(687 437)"><rect class="h" width="107" height="23"/><rect class="w" y="23" width="107" height="22.5"/><rect class="f" y="45.5" width="107" height="22.5"/><path class="k" d="M28 45.5V68M79 45.5V68"/><text class="c" x="53.5" y="16.5">phylonode</text><text x="4" y="39">...</text><text x="4" y="61.5">&lt; 4</text><text class="e" x="75" y="61.5">0 rows</text><text class="e" x="103" y="61.5">7 &gt;</text></g>
<g id="tbl-contact_relationship" transform="translate(672 833)"><rect class="h" width="138" height="23"/><rect class="w" y="23" width="138" height="22.5"/><rect class="f" y="45.5" width="138" height="22.5"/><path class="k" d="M49.5 45.5V68M111 45.5V68"/><text class="c" x="69" y="16.5">contact_relationship</text><text x="4" y="39">...</text><text x="4" y="61.5">&lt; 3</text><text class="e" x="107" y="61.5">0 rows</text></g>
<g id="tbl-feature_relationship" transform="translate(672 1111)"><rect class="h" width="136" height="23"/><rect class="w" y="23" width="136" height="22.5"/><rect class="f" y="45.5" width="136" height="22.5"/><path class="k" d="M42.5 45.5V68M100.5 45.5V68"/><text class="c" x="68" y="16.5">feature_relationship</text><text x="4" y="39">...</text><text x="4" y="61.5">&lt; 3</text><text class="e" x="96.5" y="61.5">0 rows</text><text class="e" x="132" y="61.5">2 &gt;</text></g>
<g id="tbl-featureprop" transform="translate(687 1245)"><rect class="h" width="107" height="23"/><rect class="w" y="23" width="107" height="22.5"/><rect class="f" y="45.5" width="107" height="22.5"/><path class="k" d="M28 45.5V68M79 45.5V68"/><text class="c" x="53.5" y="16.5">featureprop</text><text x="4" y="39">...</text><text x="4" y="61.5">&lt; 2</text><text class="e" x="75" y="61.5">0 rows</text><text class="e" x="103" y="61.5">1 &gt;</text></g>
<g id="tbl-feature_genotype" transform="translate(680 1340)"><rect class="h" width="122" height="23"/><rect class="w" y="23" width="122" height="22.5"/><rect class="f" y="45.5" width="122" height="22.5"/><path class="k" d="M41.5 45.5V68M98 45.5V68"/><text class="c" x="61" y="16.5">feature_genotype</text><text x="4" y="39">...</text><text x="4" y="61.5">&lt; 4</text><text class="e" x="94" y="61.5">0 rows</text></g>
<g id="tbl-genotypeprop" transform="translate(692 1490)"><rect class="h" width="98" height="23"/><rect class="w" y="23" width="98" height="22.5"/><rect class="f" y="45.5" width="98" height="22.5"/><path class="k" d="M29.5 45.5V68M81 45.5V68"/><text class="c" x="49" y="16.5">genotypeprop</text><text x="4" y="39">...</text><text x="4" y="61.5">&lt; 2</text><text class="e" x="77" y="61.5">0 rows</text></g>
<g id="tbl-phendesc" transform="translate(694 1586)"><rect class="h" width="95" height="23"/><rect class="w" y="23" width="95" height="22.5"/><rect class="f" y="45.5" width="95" height="22.5"/><path class="k" d="M28 45.5V68M79 45.5V68"/><text class="c" x="47.5" y="16.5">phendesc</text><text x="4" y="39">...</text><text x="4" y="61.5">&lt; 4</text><text class="e" x="75" y="61.5">0 rows</text></g>
<g id="tbl-phenstatement" transform="translate(688 1719)"><rect class="h" width="105" height="23"/><rect class="w" y="23" width="105" height="22.5"/><rect class="f" y="45.5" width="105" height="22.5"/><path class="k" d="M33 45.5V68M86 45.5V68"/><text class="c" x="52.5" y="16.5">phenstatement</text><text x="4" y="39">...</text><text x="4" y="61.5">&lt; 5</text><text class="e" x="82" y="61.5">0 rows</text></g>
<g id="tbl-phenotype_cvterm" transform="translate(676 1814)"><rect class="h" width="129" height="23"/><rect class="w" y="23" width="129" height="22.5"/><rect class="f" y="45.5" width="129" height="22.5"/><path class="k" d="M45 45.5V68M104 45.5V68"/><text class="c" x="64.5" y="16.5">phenotype_cvterm</text><text x="4" y="39">...</text><text x="4" y="61.5">&lt; 2</text><text class="e" x="100" y="61.5">0 rows</text></g>
<g id="tbl-stockprop" transform="translate(687 1911)"><rect class="h" width="107" height="23"/><rect class="w" y="23" width="107" height="22.5"/><rect class="f" y="45.5" width="107" height="22.5"/><path class="k" d="M28 45.5V68M79 45.5V68"/><text class="c" x="53.5" y="16.5">stockprop</text><text x="4" y="39">...</text><text x="4" y="61.5">&lt; 2</text><text class="e" x="75" y="61.5">0 rows</text><text class="e" x="103" y="61.5">1 &gt;</text></g>
<g id="tbl-cell_line_cvterm" transform="translate(684 2007)"><rect class="h" width="113" height="23"/><rect class="w" y="23" width="113" height="22.5"/><rect class="f" y="45.5" width="113" height="22.5"/><path class="k" d="M31 45.5V68M83.5 45.5V68"/><text class="c" x="56.5" y="16.5">cell_line_cvterm</text><text x="4" y="39">...</text><text x="4" y="61.5">&lt; 3</text><text class="e" x="79.5" y="61.5">0 rows</text><text class="e" x="109" y="61.5">1 &gt;</text></g>
<g id="tbl-studyprop_feature" transform="translate(677 2140)"><rect class="h" width="127" height="23"/><rect class="w" y="23" width="127" height="22.5"/><rect class="f" y="45.5" width="127" height="22.5"/><path class="k" d="M44 45.5V68M102 45.5V68"/><text class="c" x="63.5" y="16.5">studyprop_feature</text><text x="4" y="39">...</text><text x="4" y="61.5">&lt; 3</text><text class="e" x="98" y="61.5">0 rows</text></g>
<g id="tbl-nd_experiment_stock" transform="translate(658 2236)"><rect class="h" width="166" height="23"/><rect class="p" y="23" width="166" height="22.7"/><rect class="w" y="45.7" width="166" height="22.7"/><rect class="w" y="68.4" width="166" height="22.7"/><rect class="w" y="91.1" width="166" height="22.7"/><rect class="f" y="113.8" width="166" height="22.7"/><path class="k" d="M57 113.8V136.5M123 113.8V136.5"/><text class="c" x="83" y="16.5">nd_experiment_stock</text><text x="4" y="39.5">nd_experiment_stock_id</text><text x="4" y="62.2">nd_experiment_id</text><text x="4" y="84.9">stock_id</text><text x="4" y="107.6">type_id</text><text x="4" y="130.3">&lt; 3</text><text class="e" x="119" y="130.3">0 rows</text><text class="e" x="162" y="130.3">2 &gt;</text></g>
<g id="tbl-stock_relationship" transform="translate(678 2402)"><rect class="h" width="125" height="23"/><rect class="w" y="23" width="125" height="22.5"/><rect class="f" y="45.5" width="125" height="22.5"/><path class="k" d="M37 45.5V68M92 45.5V68"/><text class="c" x="62.5" y="16.5">stock_relationship</text><text x="4" y="39">...</text><text x="4" y="61.5">&lt; 3</text><text class="e" x="88" y="61.5">0 rows</text><text class="e" x="121" y="61.5">2 &gt;</text></g>
<g id="tbl-nd_experimentprop" transform="translate(674 2497)"><rect class="h" width="133" height="23"/><rect class="w" y="23" width="133" height="22.5"/><rect class="f" y="45.5" width="133" height="22.5"/><path class="k" d="M47 45.5V68M107 45.5V68"/><text class="c" x="66.5" y="16.5">nd_experimentprop</text><text x="4" y="39">...</text><text x="4" y="61.5">&lt; 2</text><text class="e" x="103" y="61.5">0 rows</text></g>
<g id="tbl-feature_cvterm" transform="translate(687 2593)"><rect class="h" width="107" height="23"/><rect class="w" y="23" width="107" height="22.5"/><rect class="f" y="45.5" width="107" height="22.5"/><path class="k" d="M28 45.5V68M79 45.5V68"/><text class="c" x="53.5" y="16.5">feature_cvterm</text><text x="4" y="39">...</text><text x="4" y="61.5">&lt; 3</text><text class="e" x="75" y="61.5">0 rows</text><text class="e" x="103" y="61.5">3 &gt;</text></g>
<g id="tbl-library_cvterm" transform="translate(690 2727)"><rect class="h" width="101" height="23"/><rect class="w" y="23" width="101" height="22.5"/><rect class="f" y="45.5" width="101" height="22.5"/><path class="k" d="M31 45.5V68M83.5 45.5V68"/><text class="c" x="50.5" y="16.5">library_cvterm</text><text x="4" y="39">...</text><text x="4" y="61.5">&lt; 3</text><text class="e" x="79.5" y="61.5">0 rows</text></g>
<g id="tbl-libraryprop" transform="translate(687 2822)"><rect class="h" width="107" height="23"/><rect class="w" y="23" width="107" height="22.5"/><rect class="f" y="45.5" width="107" height="22.5"/><path class="k" d="M28 45.5V68M79 45.5V68"/><text class="c" x="53.5" y="16.5">libraryprop</text><text x="4" y="39">...</text><text x="4" y="61.5">&lt; 2</text><text class="e" x="75" y="61.5">0 rows</text><text class="e" x="103" y="61.5">1 &gt;</text></g>
<g id="tbl-phenotype_comparison_cvterm" transform="translate(635 2918)"><rect class="h" width="212" height="23"/><rect class="w" y="23" width="212" height="22.5"/><rect class="f" y="45.5" width="212" height="22.5"/><path class="k" d="M86.5 45.5V68M166 45.5V68"/><text class="c" x="106" y="16.5">phenotype_comparison_cvterm</text><text x="4" y="39">...</text><text x="4" y="61.5">&lt; 3</text><text class="e" x="162" y="61.5">0 rows</text></g>
<g id="tbl-stock_cvterm" transform="translate(687 3053)"><rect class="h" width="107" height="23"/><rect class="w" y="23" width="107" height="22.5"/><rect class="f" y="45.5" width="107" height="22.5"/><path class="k" d="M28 45.5V68M79 45.5V68"/><text class="c" x="53.5" y="16.5">stock_cvterm</text><text x="4" y="39">...</text><text x="4" y="61.5">&lt; 3</text><text class="e" x="75" y="61.5">0 rows</text><text class="e" x="103" y="61.5">1 &gt;</text></g>
<g id="tbl-pub_relationship" transform="translate(683 3149)"><rect class="h" width="115" height="23"/><rect class="w" y="23" width="115" height="22.5"/><rect class="f" y="45.5" width="115" height="22.5"/><path class="k" d="M38 45.5V68M94 45.5V68"/><text class="c" x="57.5" y="16.5">pub_relationship</text><text x="4" y="39">...</text><text x="4" y="61.5">&lt; 3</text><text class="e" x="90" y="61.5">0 rows</text></g>
<g id="tbl-pubprop" transform="translate(693 3282)"><rect class="h" width="96" height="23"/><rect class="w" y="23" width="96" height="22.5"/><rect class="f" y="45.5" width="96" height="22.5"/><path class="k" d="M28.5 45.5V68M79.5 45.5V68"/><text class="c" x="48" y="16.5">pubprop</text><text x="4" y="39">...</text><text x="4" y="61.5">&lt; 2</text><text class="e" x="75.5" y="61.5">0 rows</text></g>
<g id="tbl-protocol" transform="translate(687 3451)"><rect class="h" width="107" height="23"/><rect class="w" y="23" width="107" height="22.5"/><rect class="f" y="45.5" width="107" height="22.5"/><path class="k" d="M28 45.5V68M79 45.5V68"/><text class="c" x="53.5" y="16.5">protocol</text><text x="4" y="39">...</text><text x="4" y="61.5">&lt; 3</text><text class="e" x="75" y="61.5">0 rows</text><text class="e" x="103" y="61.5">6 &gt;</text></g>
<g id="tbl-expression_cvtermprop" transform="translate(660 5158)"><rect class="h" width="160" height="23"/><rect class="w" y="23" width="160" height="22.5"/><rect class="f" y="45.5" width="160" height="22.5"/><path class="k" d="M60.5 45.5V68M127.5 45.5V68"/><text class="c" x="80" y="16.5">expression_cvtermprop</text><text x="4" y="39">...</text><text x="4" y="61.5">&lt; 2</text><text class="e" x="123.5" y="61.5">0 rows</text></g>
<g id="tbl-nd_reagent_relationship" transform="translate(658 5777)"><rect class="h" width="165" height="23"/><rect class="w" y="23" width="165" height="22.5"/><rect class="f" y="45.5" width="165" height="22.5"/><path class="k" d="M63 45.5V68M131 45.5V68"/><text class="c" x="82.5" y="16.5">nd_reagent_relationship</text><text x="4" y="39">...</text><text x="4" y="61.5">&lt; 3</text><text class="e" x="127" y="61.5">0 rows</text></g>
<g id="tbl-nd_reagentprop" transform="translate(686 5874)"><rect class="h" width="111" height="23"/><rect class="w" y="23" width="111" height="22.5"/><rect class="f" y="45.5" width="111" height="22.5"/><path class="k" d="M36 45.5V68M91 45.5V68"/><text class="c" x="55.5" y="16.5">nd_reagentprop</text><text x="4" y="39">...</text><text x="4" y="61.5">&lt; 2</text><text class="e" x="87" y="61.5">0 rows</text></g>
<g id="tbl-nd_protocol_reagent" transform="translate(670 5969)"><rect class="h" width="141" height="23"/><rect class="w" y="23" width="141" height="22.5"/><rect class="f" y="45.5" width="141" height="22.5"/><path class="k" d="M51 45.5V68M113 45.5V68"/><text class="c" x="70.5" y="16.5">nd_protocol_reagent</text><text x="4" y="39">...</text><text x="4" y="61.5">&lt; 3</text><text class="e" x="109" y="61.5">0 rows</text></g>
<g id="tbl-nd_protocolprop" transform="translate(685 6072)"><rect class="h" width="112" height="23"/><rect class="w" y="23" width="112" height="22.5"/><rect class="f" y="45.5" width="112" height="22.5"/><path class="k" d="M36.5 45.5V68M91.5 45.5V68"/><text class="c" x="56" y="16.5">nd_protocolprop</text><text x="4" y="39">...</text><text x="4" y="61.5">&lt; 2</text><text class="e" x="87.5" y="61.5">0 rows</text></g>
<g id="tbl-stockcollectionprop" transform="translate(1008 270)"><rect class="h" width="132" height="23"/><rect class="w" y="23" width="132" height="22.5"/><rect class="f" y="45.5" width="132" height="22.5"/><path class="k" d="M46.5 45.5V68M106 45.5V68"/><text class="c" x="66" y="16.5">stockcollectionprop</text><text x="4" y="39">...</text><text x="4" y="61.5">&lt; 2</text><text class="e" x="102" y="61.5">0 rows</text></g>
<g id="tbl-phylonode_relationship" transform="translate(995 402)"><rect class="h" width="159" height="23"/><rect class="w" y="23" width="159" height="22.5"/><rect class="f" y="45.5" width="159" height="22.5"/><path class="k" d="M60 45.5V68M126.5 45.5V68"/><text class="c" x="79.5" y="16.5">phylonode_relationship</text><text x="4" y="39">...</text><text x="4" y="61.5">&lt; 4</text><text class="e" x="122.5" y="61.5">0 rows</text></g>
<g id="tbl-phylonodeprop" transform="translate(1021 720)"><rect class="h" width="104" height="23"/><rect class="w" y="23" width="104" height="22.5"/><rect class="f" y="45.5" width="104" height="22.5"/><path class="k" d="M32.5 45.5V68M85.5 45.5V68"/><text class="c" x="52" y="16.5">phylonodeprop</text><text x="4" y="39">...</text><text x="4" y="61.5">&lt; 2</text><text class="e" x="81.5" y="61.5">0 rows</text></g>
<g id="tbl-feature_relationshipprop" transform="translate(990 1056)"><rect class="h" width="166" height="23"/><rect class="w" y="23" width="166" height="22.5"/><rect class="f" y="45.5" width="166" height="22.5"/><path class="k" d="M57.5 45.5V68M123 45.5V68"/><text class="c" x="83" y="16.5">feature_relationshipprop</text><text x="4" y="39">...</text><text x="4" y="61.5">&lt; 2</text><text class="e" x="119" y="61.5">0 rows</text><text class="e" x="162" y="61.5">1 &gt;</text></g>
<g id="tbl-arraydesign" transform="translate(1019 1413)"><rect class="h" width="108" height="23"/><rect class="w" y="23" width="108" height="22.5"/><rect class="f" y="45.5" width="108" height="22.5"/><path class="k" d="M28.5 45.5V68M79.5 45.5V68"/><text class="c" x="54" y="16.5">arraydesign</text><text x="4" y="39">...</text><text x="4" y="61.5">&lt; 5</text><text class="e" x="75.5" y="61.5">0 rows</text><text class="e" x="104" y="61.5">3 &gt;</text></g>
<g id="tbl-nd_experiment_stock_dbxref" transform="translate(975 1613)"><rect class="h" width="197" height="23"/><rect class="w" y="23" width="197" height="22.5"/><rect class="f" y="45.5" width="197" height="22.5"/><path class="k" d="M79 45.5V68M154 45.5V68"/><text class="c" x="98.5" y="16.5">nd_experiment_stock_dbxref</text><text x="4" y="39">...</text><text x="4" y="61.5">&lt; 2</text><text class="e" x="150" y="61.5">0 rows</text></g>
<g id="tbl-cell_line_cvtermprop" transform="translate(1002 1813)"><rect class="h" width="142" height="23"/><rect class="w" y="23" width="142" height="22.5"/><rect class="f" y="45.5" width="142" height="22.5"/><path class="k" d="M51.5 45.5V68M114 45.5V68"/><text class="c" x="71" y="16.5">cell_line_cvtermprop</text><text x="4" y="39">...</text><text x="4" y="61.5">&lt; 2</text><text class="e" x="110" y="61.5">0 rows</text></g>
<g id="tbl-feature_cvtermprop" transform="translate(1006 2293)"><rect class="h" width="135" height="23"/><rect class="w" y="23" width="135" height="22.5"/><rect class="f" y="45.5" width="135" height="22.5"/><path class="k" d="M48 45.5V68M108 45.5V68"/><text class="c" x="67.5" y="16.5">feature_cvtermprop</text><text x="4" y="39">...</text><text x="4" y="61.5">&lt; 2</text><text class="e" x="104" y="61.5">0 rows</text></g>
<g id="tbl-nd_experiment_stockprop" transform="translate(913 2500)"><rect class="h" width="321" height="25"/><rect class="p" y="25" width="197" height="22.8"/><rect class="w" x="197" y="25" width="124" height="22.8"/><rect class="i" y="47.8" width="197" height="22.8"/><rect class="w" x="197" y="47.8" width="124" height="22.8"/><rect class="i" y="70.6" width="197" height="22.8"/><rect class="w" x="197" y="70.6" width="124" height="22.8"/><rect class="w" y="93.4" width="197" height="22.8"/><rect class="w" x="197" y="93.4" width="124" height="22.8"/><rect class="i" y="116.2" width="197" height="22.8"/><rect class="w" x="197" y="116.2" width="124" height="22.8"/><rect class="f" y="139" width="321" height="23.8"/><path class="k" d="M88 139V162.8M197 139V162.8"/><rect x="0" y="0" width="321" height="162.8" fill="none" stroke="#000" stroke-width="3"/><text class="c" x="160.5" y="17.5">nd_experiment_stockprop</text><text x="4" y="41">nd_experiment_stockprop_id</text><text x="201" y="41">serial[10]</text><text x="4" y="63.8">nd_experiment_stock_id</text><text x="201" y="63.8">int4[10]</text><text x="4" y="86.6">type_id</text><text x="201" y="86.6">int4[10]</text><text x="4" y="109.4">value</text><text x="201" y="109.4">text[2147483647]</text><text x="4" y="132.2">rank</text><text x="201" y="132.2">int4[10]</text><text x="4" y="155.5">&lt; 2</text><text class="e" x="193" y="155.5">0 rows</text><text class="e" x="317" y="155.5">0 &gt;</text></g>
<g id="tbl-stock_relationship_cvterm" transform="translate(985 2984)"><rect class="h" width="177" height="23"/><rect class="w" y="23" width="177" height="22.5"/><rect class="f" y="45.5" width="177" height="22.5"/><path class="k" d="M69 45.5V68M140 45.5V68"/><text class="c" x="88.5" y="16.5">stock_relationship_cvterm</text><text x="4" y="39">...</text><text x="4" y="61.5">&lt; 3</text><text class="e" x="136" y="61.5">0 rows</text></g>
<g id="tbl-stock_cvtermprop" transform="translate(1012 3199)"><rect class="h" width="122" height="23"/><rect class="w" y="23" width="122" height="22.5"/><rect class="f" y="45.5" width="122" height="22.5"/><path class="k" d="M41.5 45.5V68M98 45.5V68"/><text class="c" x="61" y="16.5">stock_cvtermprop</text><text x="4" y="39">...</text><text x="4" y="61.5">&lt; 2</text><text class="e" x="94" y="61.5">0 rows</text></g>
<g id="tbl-treatment" transform="translate(1019 3451)"><rect class="h" width="108" height="23"/><rect class="w" y="23" width="108" height="22.5"/><rect class="f" y="45.5" width="108" height="22.5"/><path class="k" d="M28.5 45.5V68M79.5 45.5V68"/><text class="c" x="54" y="16.5">treatment</text><text x="4" y="39">...</text><text x="4" y="61.5">&lt; 3</text><text class="e" x="75.5" y="61.5">0 rows</text><text class="e" x="104" y="61.5">1 &gt;</text></g>
<g id="tbl-protocolparam" transform="translate(1022 3582)"><rect class="h" width="102" height="23"/><rect class="w" y="23" width="102" height="22.5"/><rect class="f" y="45.5" width="102" height="22.5"/><path class="k" d="M31.5 45.5V68M84 45.5V68"/><text class="c" x="51" y="16.5">protocolparam</text><text x="4" y="39">...</text><text x="4" y="61.5">&lt; 3</text><text class="e" x="80" y="61.5">0 rows</text></g>
<g id="tbl-element" transform="translate(1321 1003)"><rect class="h" width="107" height="23"/><rect class="w" y="23" width="107" height="22.5"/><rect class="f" y="45.5" width="107" height="22.5"/><path class="k" d="M28 45.5V68M79 45.5V68"/><text class="c" x="53.5" y="16.5">element</text><text x="4" y="39">...</text><text x="4" y="61.5">&lt; 4</text><text class="e" x="75" y="61.5">0 rows</text><text class="e" x="103" y="61.5">3 &gt;</text></g>
<g id="tbl-biomaterial_treatment" transform="translate(1299 3417)"><rect class="h" width="150" height="23"/><rect class="w" y="23" width="150" height="22.5"/><rect class="f" y="45.5" width="150" height="22.5"/><path class="k" d="M55.5 45.5V68M119 45.5V68"/><text class="c" x="75" y="16.5">biomaterial_treatment</text><text x="4" y="39">...</text><text x="4" y="61.5">&lt; 3</text><text class="e" x="115" y="61.5">0 rows</text></g>
<g id="tbl-arraydesignprop" transform="translate(1318 3563)"><rect class="h" width="114" height="23"/><rect class="w" y="23" width="114" height="22.5"/><rect class="f" y="45.5" width="114" height="22.5"/><path class="k" d="M37.5 45.5V68M93 45.5V68"/><text class="c" x="57" y="16.5">arraydesignprop</text><text x="4" y="39">...</text><text x="4" y="61.5">&lt; 2</text><text class="e" x="89" y="61.5">0 rows</text></g>
<g id="tbl-element_relationship" transform="translate(1515 1003)"><rect class="h" width="143" height="23"/><rect class="w" y="23" width="143" height="22.5"/><rect class="f" y="45.5" width="143" height="22.5"/><path class="k" d="M52 45.5V68M114.5 45.5V68"/><text class="c" x="71.5" y="16.5">element_relationship</text><text x="4" y="39">...</text><text x="4" y="61.5">&lt; 3</text><text class="e" x="110.5" y="61.5">0 rows</text></g>
<g id="tbl-dbxref" transform="translate(16 953)"><rect class="h" width="115" height="23"/><rect class="w" y="23" width="115" height="22.5"/><rect class="f" y="45.5" width="115" height="22.5"/><path class="k" d="M28 45.5V68M79 45.5V68"/><text class="c" x="57.5" y="16.5">dbxref</text><text x="4" y="39">...</text><text x="4" y="61.5">&lt; 1</text><text class="e" x="75" y="61.5">0 rows</text><text class="e" x="111" y="61.5">23 &gt;</text></g>
<g id="tbl-cvterm" transform="translate(196 2917)"><rect class="h" width="130" height="23"/><rect class="p" y="23" width="130" height="22.75"/><rect class="i" y="45.75" width="130" height="22.75"/><rect class="i" y="68.5" width="130" height="22.75"/><rect class="w" y="91.25" width="130" height="22.75"/><rect class="i" y="114" width="130" height="22.75"/><rect class="i" y="136.75" width="130" height="22.75"/><rect class="w" y="159.5" width="130" height="22.75"/><rect class="f" y="182.25" width="130" height="22.75"/><path class="k" d="M31 182.25V205M83 182.25V205"/><text class="c" x="65" y="16.5">cvterm</text><text x="4" y="39.5">cvterm_id</text><text x="4" y="62.25">cv_id</text><text x="4" y="85">name</text><text x="4" y="107.75">definition</text><text x="4" y="130.5">dbxref_id</text><text x="4" y="153.25">is_obsolete</text><text x="4" y="176">is_relationshiptype</text><text x="4" y="198.75">&lt; 2</text><text class="e" x="79" y="198.75">0 rows</text><text class="e" x="126" y="198.75">104 &gt;</text></g>
<g id="tbl-cv" transform="translate(27 6144)"><rect class="h" width="94" height="23"/><rect class="w" y="23" width="94" height="22.5"/><rect class="f" y="45.5" width="94" height="22.5"/><path class="k" d="M15 45.5V68M66 45.5V68"/><text class="c" x="47" y="16.5">cv</text><text x="4" y="39">...</text><text class="e" x="62" y="61.5">0 rows</text><text class="e" x="90" y="61.5">3 &gt;</text></g>
<text x="16" y="6348">Generated by SchemaSpy</text>
</svg>
